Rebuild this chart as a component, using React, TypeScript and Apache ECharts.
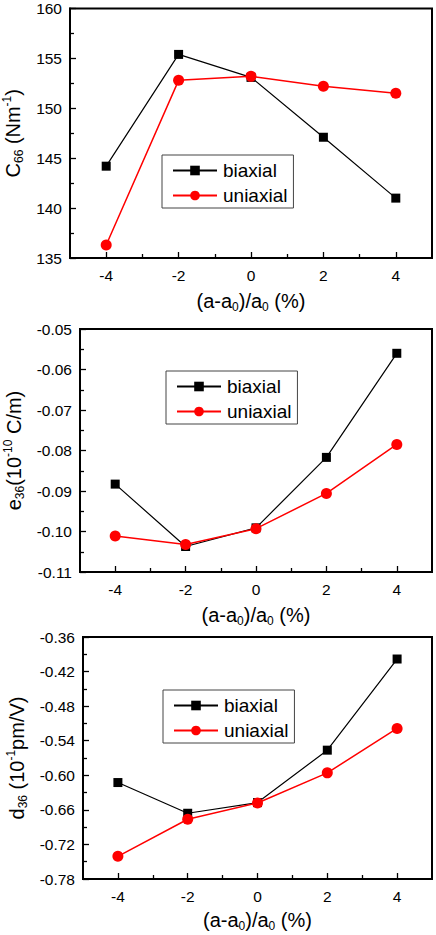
import React, { useEffect, useRef } from "react";
import * as echarts from "echarts";

const strain = [-4, -2, 0, 2, 4];
const c66Biaxial = [144.2, 155.4, 153.1, 147.1, 141.0];
const c66Uniaxial = [136.3, 152.8, 153.2, 152.2, 151.5];
const e36Biaxial = [-0.0883, -0.1037, -0.0991, -0.0817, -0.056];
const e36Uniaxial = [-0.1011, -0.1032, -0.0993, -0.0906, -0.0785];
const d36Biaxial = [-0.6126, -0.6659, -0.6474, -0.5564, -0.3982];
const d36Uniaxial = [-0.7406, -0.6763, -0.648, -0.5958, -0.5187];

const xMajorTicks = [-4, -2, 0, 2, 4];
const xMinorTicks = [-3, -1, 1, 3];
const seriesNames = ["biaxial", "uniaxial"];

const FONT = "'Liberation Sans', Arial, Helvetica, sans-serif";

const pairs = (ys: number[]) => strain.map((x, i) => [x, ys[i]]);

const richStyles = {
  n: { fontSize: 20, fontFamily: FONT, color: "#000", lineHeight: 24, verticalAlign: "middle" },
  sub: { fontSize: 12, fontFamily: FONT, color: "#000", lineHeight: 8, verticalAlign: "bottom" },
  sup: { fontSize: 12, fontFamily: FONT, color: "#000", lineHeight: 8, verticalAlign: "top" },
};

const xTitle = "{n|(a-a}{sub|0}{n|)/a}{sub|0}{n| (%)}";
const yTitles = [
  "{n|C}{sub|66}{n| (Nm}{sup|-1}{n|)}",
  "{n|e}{sub|36}{n|(10}{sup|-10}{n| C/m)}",
  "{n|d}{sub|36}{n| (10}{sup|-1}{n|pm/V)}",
];

const grids = [
  { left: 70, top: 8.5, width: 362, height: 249.5 },
  { left: 80, top: 329, width: 352, height: 243 },
  { left: 83, top: 637, width: 349, height: 242 },
];
const yRanges = [
  { min: 135, max: 160, interval: 5, digits: 0 },
  { min: -0.11, max: -0.05, interval: 0.01, digits: 2 },
  { min: -0.78, max: -0.36, interval: 0.06, digits: 2 },
];
const yNameGaps = [40, 49, 51];
const xNameGaps = [31, 31, 29];
const legendPos = [
  { left: 162, top: 155 },
  { left: 166, top: 371 },
  { left: 163, top: 690 },
];
const panelData = [
  [c66Biaxial, c66Uniaxial],
  [e36Biaxial, e36Uniaxial],
  [d36Biaxial, d36Uniaxial],
];

export default function App() {
  const ref = useRef<HTMLDivElement>(null);
  useEffect(() => {
    if (!ref.current) return;
    const chart = echarts.init(ref.current, undefined, { renderer: "svg" });
    const xAxis: any[] = [];
    const yAxis: any[] = [];
    const series: any[] = [];
    const legend: any[] = [];
    grids.forEach((g, i) => {
      xAxis.push({
        type: "value",
        gridIndex: i,
        min: -5,
        max: 5,
        interval: 1,
        position: "bottom",
        axisLine: { show: true, onZero: false, lineStyle: { color: "#000", width: 2 } },
        axisTick: { show: true, inside: true, length: 6, customValues: xMajorTicks, lineStyle: { color: "#000", width: 1.3 } },
        axisLabel: { show: true, customValues: xMajorTicks, margin: 9, fontSize: 15.5, fontFamily: FONT, color: "#000" },
        splitLine: { show: false },
        name: xTitle,
        nameLocation: "middle",
        nameGap: xNameGaps[i],
        nameTextStyle: { rich: richStyles },
      });
      xAxis.push({
        type: "value",
        gridIndex: i,
        min: -5,
        max: 5,
        interval: 1,
        position: "bottom",
        axisLine: { show: false, onZero: false },
        axisTick: { show: true, inside: true, length: 4, customValues: xMinorTicks, lineStyle: { color: "#000", width: 1.3 } },
        axisLabel: { show: false },
        splitLine: { show: false },
      });
      const r = yRanges[i];
      yAxis.push({
        type: "value",
        gridIndex: i,
        min: r.min,
        max: r.max,
        interval: r.interval,
        axisLine: { show: true, onZero: false, lineStyle: { color: "#000", width: 2 } },
        axisTick: { show: true, inside: true, length: 6, lineStyle: { color: "#000", width: 1.3 } },
        minorTick: { show: true, splitNumber: 2, length: 4, lineStyle: { color: "#000", width: 1.3 } },
        axisLabel: {
          margin: 8,
          fontSize: 15.5,
          fontFamily: FONT,
          color: "#000",
          formatter: (v: number) => v.toFixed(r.digits),
        },
        splitLine: { show: false },
        name: yTitles[i],
        nameLocation: "middle",
        nameRotate: 90,
        nameGap: yNameGaps[i],
        nameTextStyle: { rich: richStyles },
      });
      const [b, u] = panelData[i];
      series.push({
        name: "biaxial",
        type: "line",
        xAxisIndex: 2 * i,
        yAxisIndex: i,
        data: pairs(b),
        symbol: "rect",
        symbolSize: 9,
        itemStyle: { color: "#000" },
        lineStyle: { color: "#000", width: 1.2 },
        z: 3,
      });
      series.push({
        name: "uniaxial",
        type: "line",
        xAxisIndex: 2 * i,
        yAxisIndex: i,
        data: pairs(u),
        symbol: "circle",
        symbolSize: 11,
        itemStyle: { color: "#ff0000" },
        lineStyle: { color: "#ff0000", width: 1.5 },
        z: 4,
      });
      legend.push({
        data: seriesNames,
        orient: "vertical",
        left: legendPos[i].left,
        top: legendPos[i].top,
        itemWidth: 44,
        itemHeight: 12,
        itemGap: 6,
        padding: [6, 6, 3, 10],
        borderColor: "#444",
        borderWidth: 1,
        backgroundColor: "#fff",
        selectedMode: false,
        textStyle: { fontSize: 19, fontFamily: FONT, color: "#000", padding: [0, 0, 0, 1] },
      });
    });
    chart.setOption({
      animation: false,
      backgroundColor: "#fff",
      grid: grids.map((g) => ({
        ...g,
        show: true,
        containLabel: false,
        outerBoundsMode: "none",
        borderColor: "#000",
        borderWidth: 2,
        backgroundColor: "transparent",
      })),
      xAxis,
      yAxis,
      series,
      legend,
    });
    return () => chart.dispose();
  }, []);
  return (
    <div
      ref={ref}
      style={{ position: "absolute", left: 0, top: 0, width: 436, height: 935, background: "#fff" }}
    />
  );
}
